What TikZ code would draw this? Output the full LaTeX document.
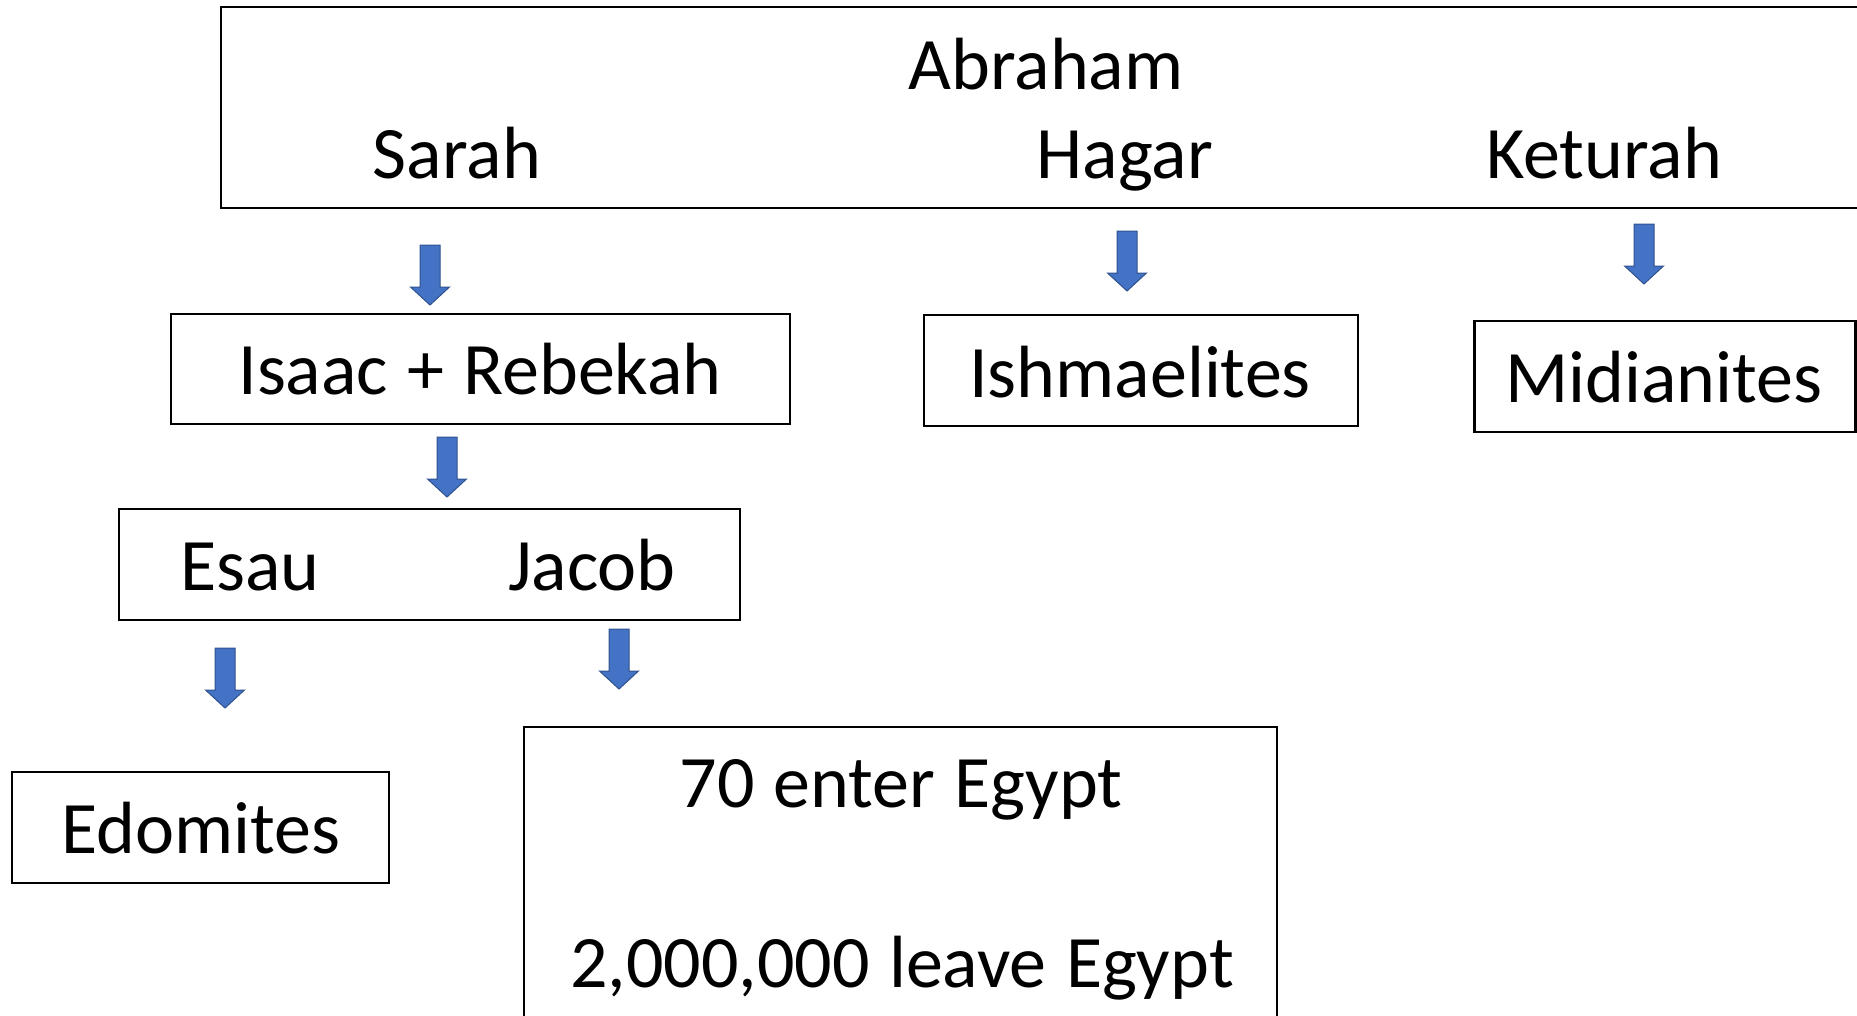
\documentclass[tikz,border=0pt]{standalone}
\usepackage{fontspec}
\setmainfont{Carlito}[WordSpace=1.15]
\definecolor{arrowblue}{HTML}{4472C4}
\definecolor{arrowedge}{HTML}{2F528F}
\tikzset{
  box/.style={draw=black, line width=2.2pt, rectangle, inner sep=0pt},
  lbl/.style={inner sep=0pt, anchor=base, font=\fontsize{74}{88}\selectfont},
  blockarrow/.pic={\filldraw[fill=arrowblue, draw=arrowedge, line width=1pt]
     (-10,0) -- (10,0) -- (10,42) -- (19.5,42) -- (0,60) -- (-19.5,42) -- (-10,42) -- cycle;}
}
\begin{document}
\begin{tikzpicture}[x=1pt,y=-1pt]
\clip (0,0) rectangle (1857,1015);
% boxes
\node[box, minimum width=1700, minimum height=201] (top) at (1071,107.5) {};
\node[box, minimum width=619, minimum height=110] (ir) at (480.5,369) {};
\node[box, minimum width=434, minimum height=111] (ish) at (1141,370.5) {};
\node[box, minimum width=381, minimum height=111] (mid) at (1665,376.5) {};
\node[box, minimum width=621, minimum height=111] (ej) at (429.5,564.5) {};
\node[box, minimum width=377, minimum height=111] (edo) at (200.5,827.5) {};
\node[box, minimum width=753, minimum height=400] (egy) at (900.5,927) {};
% texts
\node[lbl] (abraham) at (1046,89) {Abraham};
\node[lbl] (sarah) at (457,178) {Sarah};
\node[lbl] (hagar) at (1125,178) {Hagar};
\node[lbl] (keturah) at (1604,178) {Keturah};
\node[lbl] (irt) at (480,394) {Isaac + Rebekah};
\node[lbl] (isht) at (1140,397) {Ishmaelites};
\node[lbl] (midt) at (1664,402) {Midianites};
\node[lbl] (esau) at (250,590) {Esau};
\node[lbl] (jacob) at (592,590) {Jacob};
\node[lbl] (edot) at (201,853) {Edomites};
\node[lbl] (enter) at (901,807) {70 enter Egypt};
\node[lbl] (leave) at (902,987) {2,000,000 leave Egypt};
% block arrows
\coordinate (a1) at (430,245);
\coordinate (a2) at (1127,231);
\coordinate (a3) at (1644,224);
\coordinate (a4) at (447,437);
\coordinate (a5) at (225,648);
\coordinate (a6) at (619,629);
\foreach \c in {a1,a2,a3,a4,a5,a6} {\pic at (\c) {blockarrow};}
\end{tikzpicture}
\end{document}
